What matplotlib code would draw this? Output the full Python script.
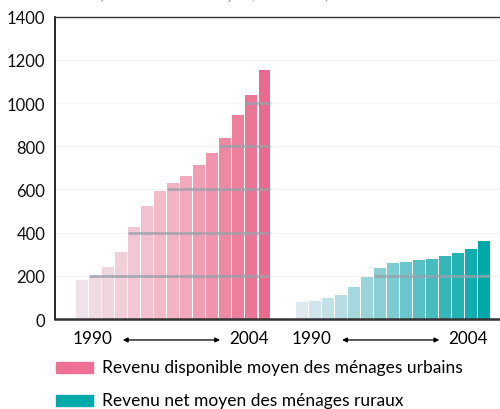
import matplotlib.pyplot as plt
import numpy as np
from matplotlib.colors import LinearSegmentedColormap
from matplotlib.patches import Rectangle

plt.rcParams['font.family'] = ['Lato', 'DejaVu Sans']

years = list(range(1990, 2005))
urbain = [182, 198, 243, 312, 425, 521, 594, 628, 663, 715, 769, 840, 943, 1038, 1154]
rural = [81, 84, 97, 111, 147, 194, 234, 258, 266, 272, 277, 291, 305, 323, 361]
niveaux = [200, 400, 600, 800, 1000, 1200]

cm_u = LinearSegmentedColormap.from_list('u', ['#f0e2e8', '#f3b3c3', '#ea6b8e'])
cm_r = LinearSegmentedColormap.from_list('r', ['#dde9ef', '#7ccbd0', '#00a9a9'])

fig = plt.figure(figsize=(5, 4.1), dpi=100)
ax = fig.add_axes([0.11, 0.2195, 0.89, 0.7375])

n = len(years)
xu = 2.1 + np.arange(n)
xr = 18.95 + np.arange(n)
w = 0.92

for lv in niveaux:
    ax.axhline(lv, color='#f3f3f3', lw=0.8, zorder=0)

ax.bar(xu, urbain, width=w, color=cm_u(np.linspace(0, 1, n)), zorder=2)
ax.bar(xr, rural, width=w, color=cm_r(np.linspace(0, 1, n)), zorder=2)

# lignes grises par-dessus les barres
for xs, vals in [(xu, urbain), (xr, rural)]:
    for lv in niveaux:
        idx = [i for i, v in enumerate(vals) if v >= lv - 5]
        if idx:
            ax.hlines(lv, xs[idx[0]] - w / 2, xs[-1] + w / 2, color='#98a2ac',
                      lw=2, alpha=0.8, zorder=3)

ax.set_xlim(0, 34.2)
ax.set_ylim(0, 1400)
ax.set_yticks(range(0, 1401, 200))
ax.set_xticks([])
ax.tick_params(axis='y', length=0, labelsize=12, pad=7, colors='#111111')
ax.spines['right'].set_visible(False)
ax.spines['top'].set_color('#333333')
ax.spines['top'].set_linewidth(1)
ax.spines['left'].set_linewidth(1.2)
ax.spines['bottom'].set_linewidth(1.8)
ax.spines['bottom'].set_color('#333333')

# années sous les groupes
for xs in [xu, xr]:
    ax.text(xs[0] + 0.8, -88, str(years[0]), ha='center', va='center', fontsize=12.3)
    ax.text(xs[-1] - 1.2, -88, str(years[-1]), ha='center', va='center', fontsize=12.3)
    ax.annotate('', xy=(xs[-1] - 3.2, -97), xytext=(xs[0] + 2.9, -97),
                arrowprops=dict(arrowstyle='<|-|>', color='black', lw=0.9,
                                mutation_scale=7),
                annotation_clip=False)

# légende
fig.patches.append(Rectangle((56 / 500, 1 - 374 / 410), 37 / 500, 11 / 410,
                             transform=fig.transFigure, color='#ef7095'))
fig.patches.append(Rectangle((56 / 500, 1 - 407 / 410), 37 / 500, 11 / 410,
                             transform=fig.transFigure, color='#00a9a9'))
fig.text(102 / 500, 1 - 368 / 410, 'Revenu disponible moyen des ménages urbains',
         va='center', fontsize=12.5)
fig.text(102 / 500, 1 - 401 / 410, 'Revenu net moyen des ménages ruraux',
         va='center', fontsize=12.5)

fig.text(0.66, 1.016, '(revenu annuel moyen, en dollars)', ha='right', va='center',
         fontsize=12, style='italic', color='#999999')

fig.savefig('out.png', dpi=100)
